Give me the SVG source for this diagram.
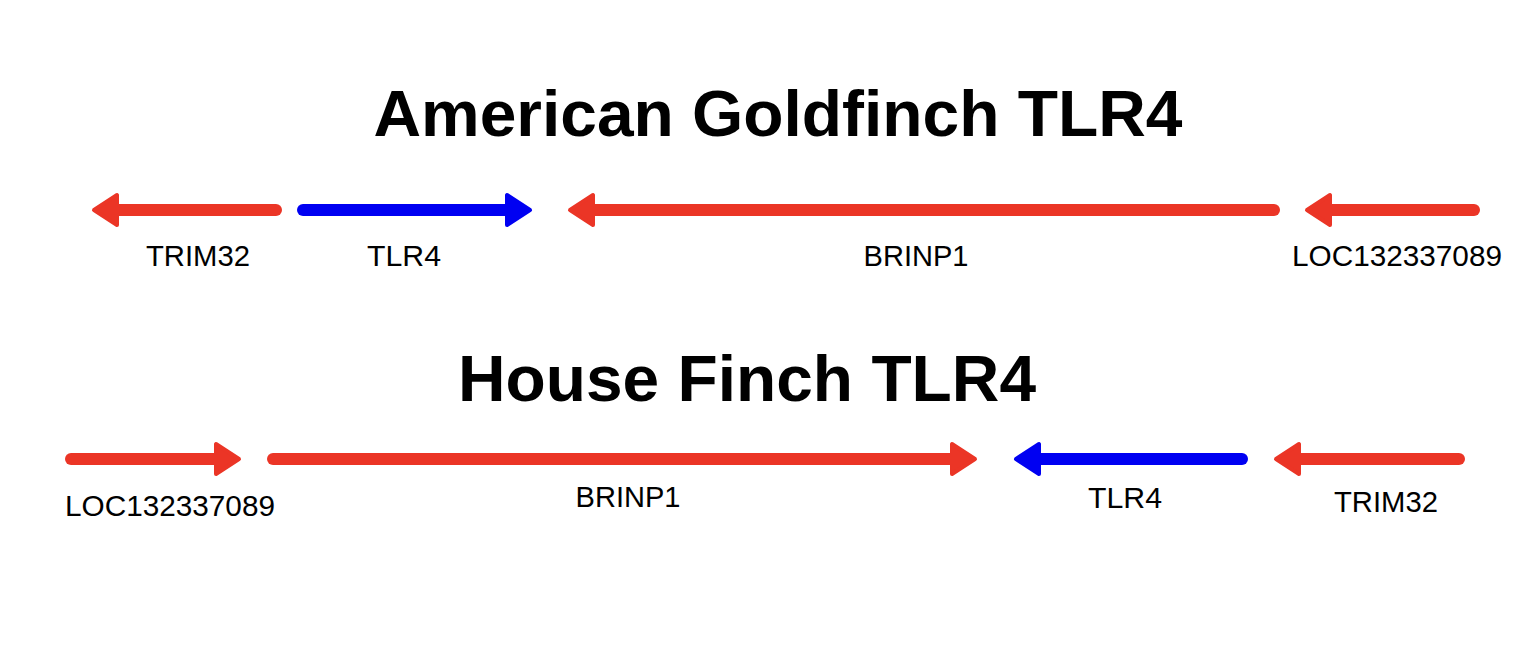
<svg xmlns="http://www.w3.org/2000/svg" width="1538" height="652" viewBox="0 0 1538 652">
<style>
.title{font-family:"Liberation Sans",Arial,sans-serif;font-weight:bold;font-size:65px;fill:#000;text-anchor:middle}
.lbl{font-family:"Liberation Sans",Arial,sans-serif;font-size:29px;fill:#000;text-anchor:middle}
.red line{stroke:#EB3526;stroke-width:12;stroke-linecap:round}
.red polygon{fill:#EB3526;stroke:#EB3526;stroke-width:4;stroke-linejoin:round}
.blue line{stroke:#0000F2;stroke-width:12;stroke-linecap:round}
.blue polygon{fill:#0000F2;stroke:#0000F2;stroke-width:4;stroke-linejoin:round}
</style>
<rect width="1538" height="652" fill="#fff"/>
<text class="title" x="778" y="136" textLength="809" lengthAdjust="spacingAndGlyphs">American Goldfinch TLR4</text>
<text class="title" x="747" y="401" textLength="578" lengthAdjust="spacingAndGlyphs">House Finch TLR4</text>
<g id="connectors">
<g id="ag-trim32" class="red"><line x1="276" y1="210" x2="112" y2="210"/><polygon points="94,210 117,195 117,225"/></g>
<g id="ag-tlr4" class="blue"><line x1="303" y1="210" x2="512" y2="210"/><polygon points="530,210 507,195 507,225"/></g>
<g id="ag-brinp1" class="red"><line x1="1274" y1="210" x2="588" y2="210"/><polygon points="570,210 593,195 593,225"/></g>
<g id="ag-loc" class="red"><line x1="1474" y1="210" x2="1325" y2="210"/><polygon points="1307,210 1330,195 1330,225"/></g>
<g id="hf-loc" class="red"><line x1="71" y1="459" x2="222" y2="459"/><polygon points="239,459 216,444 216,474"/></g>
<g id="hf-brinp1" class="red"><line x1="273" y1="459" x2="958" y2="459"/><polygon points="975,459 952,444 952,474"/></g>
<g id="hf-tlr4" class="blue"><line x1="1242" y1="459" x2="1033" y2="459"/><polygon points="1016,459 1039,444 1039,474"/></g>
<g id="hf-trim32" class="red"><line x1="1459" y1="459" x2="1293" y2="459"/><polygon points="1276,459 1299,444 1299,474"/></g>
</g>
<g id="labels">
<text class="lbl" x="198" y="266" textLength="104" lengthAdjust="spacingAndGlyphs">TRIM32</text>
<text class="lbl" x="404" y="266" textLength="74" lengthAdjust="spacingAndGlyphs">TLR4</text>
<text class="lbl" x="916" y="266" textLength="105" lengthAdjust="spacingAndGlyphs">BRINP1</text>
<text class="lbl" x="1397" y="266" textLength="210" lengthAdjust="spacingAndGlyphs">LOC132337089</text>
<text class="lbl" x="170" y="516" textLength="210" lengthAdjust="spacingAndGlyphs">LOC132337089</text>
<text class="lbl" x="628" y="507" textLength="105" lengthAdjust="spacingAndGlyphs">BRINP1</text>
<text class="lbl" x="1125" y="508" textLength="74" lengthAdjust="spacingAndGlyphs">TLR4</text>
<text class="lbl" x="1386" y="512" textLength="104" lengthAdjust="spacingAndGlyphs">TRIM32</text>
</g>
</svg>
